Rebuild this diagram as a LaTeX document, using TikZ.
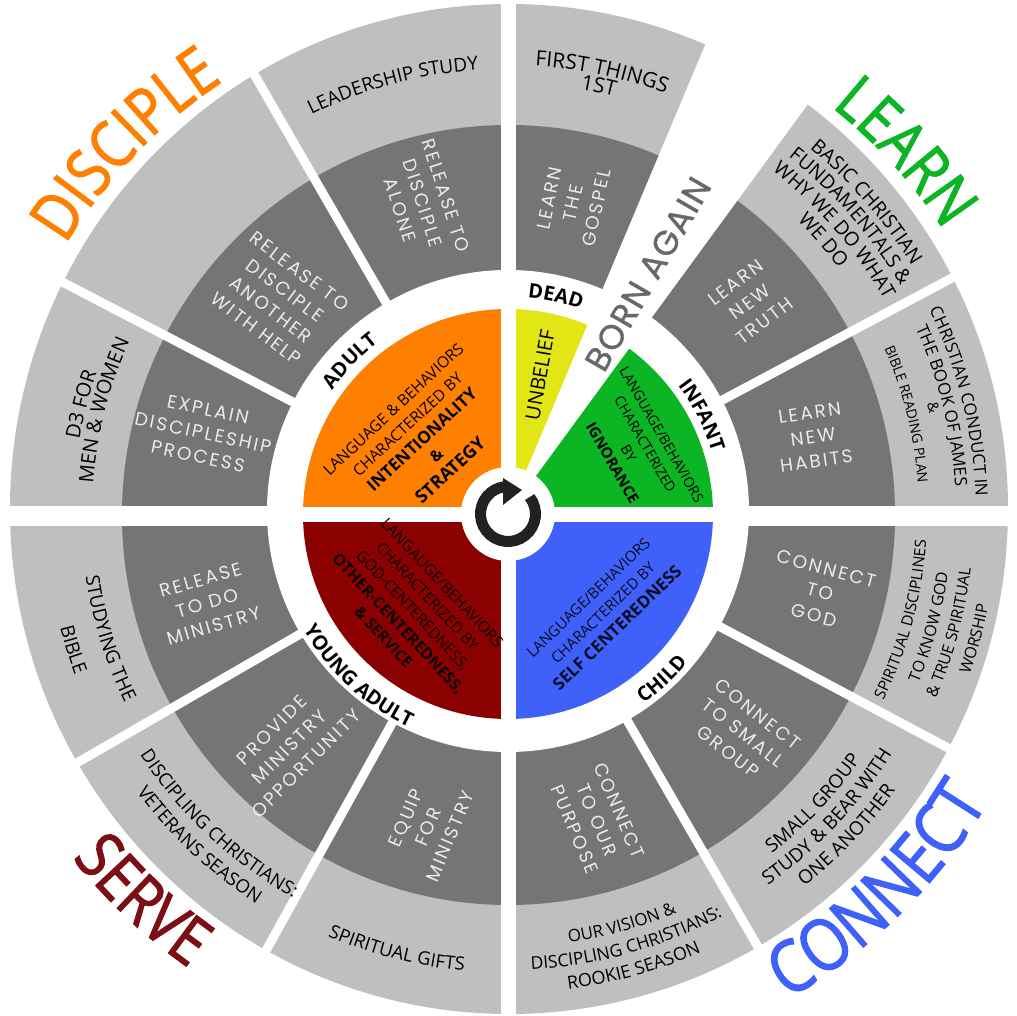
\documentclass[tikz,border=0pt]{standalone}
\usepackage{fontspec}
\setmainfont{Open Sans}
\newfontfamily\techfont[LetterSpace=12]{Poppins}
\newfontfamily\bornfont[LetterSpace=4,FakeBold=1]{Poppins}
\newfontfamily\bigfont[FakeStretch=0.85,FakeBold=1.6]{Open Sans}
\usetikzlibrary{decorations.text}
\definecolor{ringlight}{HTML}{BEBFBF}
\definecolor{ringdark}{HTML}{757575}
\definecolor{bornagaincol}{HTML}{686868}
\definecolor{adultcol}{HTML}{FF8000}
\definecolor{deadcol}{HTML}{E1E614}
\definecolor{infantcol}{HTML}{0CB523}
\definecolor{childcol}{HTML}{4060FA}
\definecolor{youngcol}{HTML}{8B0000}
\definecolor{servecol}{HTML}{7B0F14}
\newcommand{\fs}[1]{\fontsize{#1}{#1}\selectfont}
% text on an arc, clockwise (tops out) and counterclockwise (tops in)
\newcommand{\cwtext}[4]{\path[decorate,decoration={text along path,text align=center,text={|#1|#4}}] (#3+50:#2) arc[start angle=#3+50,end angle=#3-50,radius=#2];}
\newcommand{\ccwtext}[4]{\path[decorate,decoration={text along path,text align=center,text={|#1|#4}}] (#3-50:#2) arc[start angle=#3-50,end angle=#3+50,radius=#2];}
\tikzset{
    gap/.style={white, line width=9pt},
    darktext/.style={text=white!92!black, align=center, inner sep=0pt, font=\techfont\fontsize{18.5}{24}\selectfont},
    sectext/.style={align=center, inner sep=0pt, font=\fontsize{15}{21}\selectfont}
}

\begin{document}
\begin{tikzpicture}[x=1pt, y=1pt]
\useasboundingbox (-508,-502) rectangle (509,514);

% rings
\fill[ringlight] (1,5) ellipse[x radius=499, y radius=505];
\fill[ringdark] (0.5,-1) ellipse[x radius=386.5, y radius=390];
\fill[white] (0,3) ellipse[x radius=241, y radius=241];

% colour sectors
\fill[adultcol] (0,0) -- (180:205) arc[start angle=180, end angle=90, radius=205] -- cycle;
\fill[deadcol] (0,0) -- (90:205) arc[start angle=90, end angle=60, radius=205] -- cycle;
\fill[infantcol] (0,0) -- (60:205) arc[start angle=60, end angle=0, radius=205] -- cycle;
\fill[childcol] (0,0) -- (0:205) arc[start angle=0, end angle=-90, radius=205] -- cycle;
\fill[youngcol] (0,0) -- (-90:205) arc[start angle=-90, end angle=-180, radius=205] -- cycle;

% gaps between the wedges
\foreach \a in {28,120,152.5,-28,-60,-119,-150}
    \draw[gap] (\a:225) -- (\a:540);
\fill[white] (0,0) -- (67.2:560) -- (53.8:560) -- cycle;
\draw[white, line width=15pt] (0.5,530) -- (0.5,-530);
\draw[white, line width=20pt] (-540,-2) -- (-215,-2);
\draw[white, line width=20pt] (215,-2) -- (540,-2);
\draw[white, line width=15pt] (-215,-0.5) -- (215,-0.5);
\fill[white] (0,0) circle[radius=47];

% centre arrow
\draw[black!87, line width=11pt] (38:27.5) arc[start angle=38, end angle=-270, radius=27.5];
\fill[black!87] (14,24) -- (-5,36) -- (-5,9) -- cycle;

% dark ring
\node[darktext, rotate=78] (gospel) at (65,311) {LEARN\\THE\\GOSPEL};
\node[darktext, rotate=37] (truth) at (242,212) {LEARN\\NEW\\TRUTH};
\node[darktext, rotate=8] (habits) at (305,77) {LEARN\\NEW\\HABITS};
\node[darktext, rotate=-15] (god) at (312,-78) {CONNECT\\TO\\GOD};
\node[darktext, rotate=-38] (smallgroup) at (235,-219) {CONNECT\\TO SMALL\\GROUP};
\node[darktext, rotate=-67] (purpose) at (89,-306) {CONNECT\\TO OUR\\PURPOSE};
\node[darktext, rotate=67] (equip) at (-80,-313) {EQUIP\\FOR\\MINISTRY};
\node[darktext, rotate=45] (provide) at (-219,-233) {PROVIDE\\MINISTRY\\OPPORTUNITY};
\node[darktext, rotate=16] (dotask) at (-301,-89) {RELEASE\\TO DO\\MINISTRY};
\node[darktext, rotate=-12] (explain) at (-305,81) {EXPLAIN\\DISCIPLESHIP\\PROCESS};
\node[darktext, rotate=-37] (another) at (-230,214) {RELEASE TO\\DISCIPLE\\ANOTHER\\WITH HELP};
\node[darktext, rotate=-72] (alone) at (-85,311) {RELEASE TO\\DISCIPLE\\ALONE};

% light ring
\cwtext{\fs{21}}{449}{78}{FIRST THINGS}
\cwtext{\fs{21}}{431}{78}{1ST}
\cwtext{\fs{19}}{445}{105}{LEADERSHIP STUDY}
\cwtext{\fs{19.5}}{474}{41}{BASIC CHRISTIAN}
\cwtext{\fs{19.5}}{454}{41}{FUNDAMENTALS {\&}}
\cwtext{\fs{19.5}}{433}{41}{WHY WE DO WHAT}
\cwtext{\fs{19.5}}{412}{41}{WE DO}
\cwtext{\fs{17}}{468}{14}{CHRISTIAN CONDUCT IN}
\cwtext{\fs{17}}{448}{14}{THE BOOK OF JAMES}
\cwtext{\fs{15}}{433}{14}{{\&}}
\cwtext{\fs{14}}{411}{14}{BIBLE READING PLAN}
\ccwtext{\fs{15.5}}{419}{-15}{SPIRITUAL DISCIPLINES}
\ccwtext{\fs{16}}{444}{-15}{TO KNOW GOD}
\ccwtext{\fs{16}}{466}{-15}{{\&} TRUE SPIRITUAL}
\ccwtext{\fs{16}}{489}{-15}{WORSHIP}
\ccwtext{\fs{19}}{430}{-43.5}{SMALL GROUP}
\ccwtext{\fs{19}}{453}{-43.5}{STUDY {\&} BEAR WITH}
\ccwtext{\fs{19}}{476}{-43.5}{ONE ANOTHER}
\ccwtext{\fs{17}}{433}{-74.5}{OUR VISION {\&}}
\ccwtext{\fs{17.5}}{456}{-74.5}{DISCIPLING CHRISTIANS:}
\ccwtext{\fs{18}}{479}{-74.5}{ROOKIE SEASON}
\ccwtext{\fs{18.5}}{459}{-104.3}{SPIRITUAL GIFTS}
\ccwtext{\fs{18.5}}{440}{-133}{DISCIPLING CHRISTIANS:}
\ccwtext{\fs{18.5}}{464}{-133}{VETERANS SEASON}
\ccwtext{\fs{19}}{427}{-162.7}{STUDYING THE}
\ccwtext{\fs{19}}{462}{-162.7}{BIBLE}
\cwtext{\fs{20}}{435}{165.6}{D3 FOR}
\cwtext{\fs{20}}{416}{165.6}{MEN {\&} WOMEN}

% stage names
\cwtext{\fs{20}\bfseries}{217}{77.6}{DEAD}
\cwtext{\fs{20}\bfseries}{215}{136}{ADULT}
\cwtext{\fs{20}\bfseries}{213}{27}{INFANT}
\ccwtext{\fs{20}\bfseries}{233}{-47}{CHILD}
\ccwtext{\fs{20}\bfseries}{235}{-132.7}{YOUNG ADULT}

% sector texts
\node[sectext, rotate=43, font=\fontsize{15.6}{21}\selectfont] (adulttext) at (-86,74) {LANGUAGE \& BEHAVIORS\\CHARACTERIZED BY\\{\fontsize{17}{21}\selectfont\bfseries INTENTIONALITY}\\{\bfseries \&}\\{\fontsize{18}{21}\selectfont\bfseries STRATEGY}};
\node[sectext, rotate=80, font=\fontsize{20}{21}\selectfont] (deadtext) at (32,139) {UNBELIEF};
\node[sectext, rotate=-60, font=\fontsize{14}{19}\selectfont] (infanttext) at (129,65) {LANGUAGE/BEHAVIORS\\CHARACTERIZED\\BY\\{\fontsize{15}{19}\selectfont\bfseries IGNORANCE}};
\node[sectext, rotate=44, text=black!85!childcol] (childtext) at (95,-99) {LANGUAGE/BEHAVIORS\\CHARACTERIZED BY\\{\fontsize{17}{21}\selectfont\bfseries SELF CENTEREDNESS}};
\node[sectext, rotate=-47, text=black!90!youngcol, font=\fontsize{15.5}{20}\selectfont] (youngtext) at (-95,-96) {LANGAUGE/BEHAVIORS\\CHARACTERIZED BY\\GOD-CENTEREDNESS,\\{\fontsize{16}{20}\selectfont\bfseries OTHER-CENTEREDNESS,}\\{\bfseries \& SERVICE}};

% big labels
\node[rotate=60, text=bornagaincol, inner sep=0pt, font=\bornfont\fontsize{34}{34}\selectfont] (bornagain) at (140,240) {BORN AGAIN};
\cwtext{\bigfont\fs{65}\color{adultcol}}{518}{136}{DISCIPLE}
\cwtext{\bigfont\fs{64}\color{infantcol}}{520}{42.3}{LEARN}
\ccwtext{\bigfont\fs{72}\color{childcol}}{560}{-45.5}{CONNECT}
\ccwtext{\bigfont\fs{66}\color{servecol}}{555}{-133.4}{SERVE}

\end{tikzpicture}
\end{document}
